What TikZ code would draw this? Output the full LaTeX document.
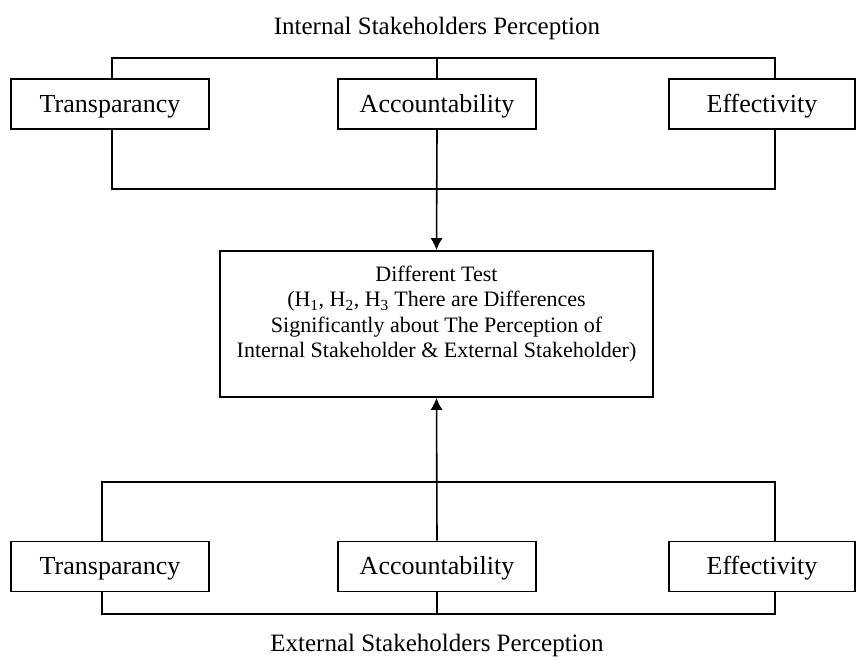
\documentclass[tikz,border=0pt]{standalone}
\usepackage{fontspec}
\setmainfont{Liberation Serif}
\usetikzlibrary{arrows.meta,positioning}

\begin{document}
\begin{tikzpicture}[x=1pt,y=-1pt,line width=1.6pt,
		factorbox/.style={rectangle,draw,minimum height=50pt,inner sep=0pt,
		font=\fontsize{26}{30}\selectfont,text height=17pt,text depth=1pt},
		titletext/.style={anchor=base,inner sep=0pt,font=\fontsize{25}{30}\selectfont},
		arr/.style={-{Latex[length=12pt,width=12pt]}}
		]
		\useasboundingbox (0,0) rectangle (856,659);
		
		% internal side
		\node[titletext](IP) at (437,34){Internal Stakeholders Perception};
		\node[factorbox, minimum width=198pt](IT) at (110,104){Transparancy};
		\node[factorbox, minimum width=198pt](IA) at (437,104){Accountability};
		\node[factorbox, minimum width=186pt](IE) at (762,104){Effectivity};
		
		% test box
		\node[rectangle, draw, minimum width=433pt, minimum height=146pt](D) at (436.5,324){};
		\node[align=center, anchor=north, inner sep=0pt, font=\fontsize{22}{25.5}\selectfont,
		below=15pt of D.north](DT){Different Test\\
		(H\textsubscript{1}, H\textsubscript{2}, H\textsubscript{3} There are Differences\\
		Significantly about The Perception of\\
		Internal Stakeholder \& External Stakeholder)};
		
		% external side
		\node[factorbox, minimum width=198pt](ET) at (110,566.5){Transparancy};
		\node[factorbox, minimum width=198pt](EA) at (437,566.5){Accountability};
		\node[factorbox, minimum width=186pt](EE) at (762,566.5){Effectivity};
		\node[titletext](EP) at (437,651){External Stakeholders Perception};
		
		\coordinate (itl) at (112,58);
		\coordinate (itr) at (775,58);
		\coordinate (ibl) at (112,189);
		\coordinate (ibr) at (775,189);
		\draw (IT.north -| itl) -- (itl) -- (itr) -- (IE.north -| itr);
		\draw (IA.north) -- (IA.north |- itl);
		\draw (IT.south -| ibl) -- (ibl) -- (ibr) -- (IE.south -| ibr);
		\draw[arr] (IA.south) -- (D.north);
		
		\coordinate (etl) at (102,482);
		\coordinate (etr) at (775,482);
		\coordinate (ebl) at (102,614);
		\coordinate (ebr) at (775,614);
		\draw (ET.north -| etl) -- (etl) -- (etr) -- (EE.north -| etr);
		\draw[arr] (EA.north) -- (D.south);
		\draw (ET.south -| ebl) -- (ebl) -- (ebr) -- (EE.south -| ebr);
		\draw (EA.south) -- (EA.south |- ebl);
	\end{tikzpicture}
\end{document}
